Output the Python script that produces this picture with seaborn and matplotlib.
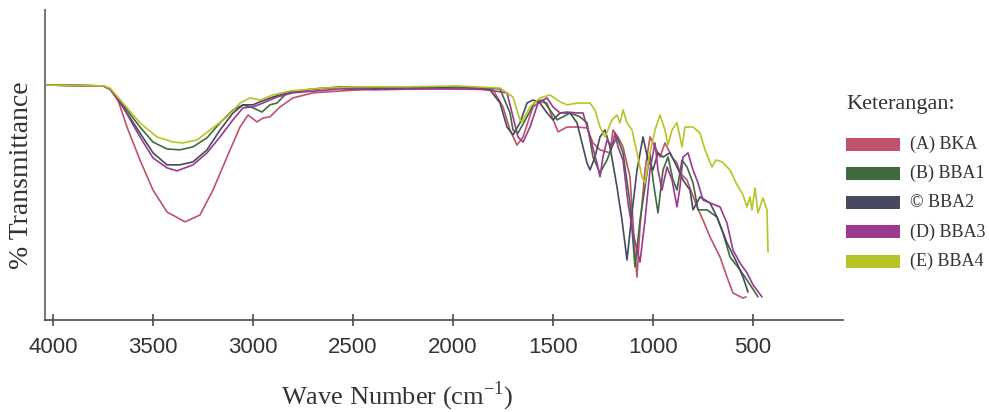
import matplotlib
matplotlib.use("Agg")
import matplotlib.pyplot as plt
import pandas as pd
import seaborn as sns
from matplotlib.patches import Rectangle

# ---------------- data ----------------
series_names = ["(A) BKA", "(B) BBA1", "© BBA2", "(D) BBA3", "(E) BBA4"]
series_colors = ["#C0526A", "#3F6B3E", "#474A5E", "#9A3A8E", "#B8C425"]

wn_a = [4040, 3750, 3715, 3680, 3630, 3565, 3500, 3430, 3340, 3265, 3200, 3130, 3065, 3025, 2980,
        2950, 2915, 2865, 2800, 2700, 2565, 2400, 2165, 1965, 1800, 1750, 1715, 1680, 1650, 1600,
        1565, 1530, 1505, 1475, 1430, 1380, 1330, 1300, 1265, 1215, 1200, 1175, 1150, 1115, 1090,
        1080, 1065, 1040, 1015, 990, 965, 940, 905, 880, 865, 830, 780, 750, 715, 665, 630, 600,
        550, 535]
t_a = [78.3, 78.0, 77.0, 74.3, 64.3, 53.3, 43.3, 36.0, 32.7, 35.0, 43.3, 54.3, 64.3, 68.3, 66.0,
       67.3, 67.7, 71.0, 74.0, 75.7, 76.3, 77.0, 77.0, 77.0, 76.7, 71.0, 63.3, 58.3, 61.0, 71.0,
       72.7, 72.3, 67.7, 62.7, 64.3, 64.3, 64.0, 59.0, 56.7, 55.7, 63.3, 61.0, 57.7, 47.7, 22.3,
       14.3, 31.0, 50.0, 61.0, 57.7, 54.3, 59.0, 54.3, 52.3, 49.0, 46.7, 37.7, 33.3, 27.7, 21.0,
       14.3, 9.0, 7.3, 7.7]

wn_b = [4040, 3750, 3715, 3650, 3565, 3500, 3430, 3365, 3300, 3230, 3165, 3100, 3050, 3000, 2955,
        2915, 2880, 2830, 2730, 2565, 2265, 1965, 1765, 1715, 1700, 1675, 1630, 1590, 1550, 1515,
        1480, 1450, 1415, 1365, 1330, 1300, 1265, 1230, 1205, 1180, 1150, 1115, 1090, 1065, 1040,
        1015, 1000, 975, 950, 925, 900, 880, 855, 830, 800, 775, 730, 680, 650, 615, 565, 530, 475]
t_b = [78.3, 78.0, 77.0, 71.7, 64.3, 59.3, 57.0, 56.7, 57.7, 60.7, 65.7, 70.0, 71.7, 70.7, 69.3,
       71.7, 72.3, 75.7, 76.7, 77.7, 77.7, 77.7, 77.0, 69.0, 63.3, 62.3, 67.7, 72.7, 73.3, 70.0,
       66.7, 67.7, 69.0, 67.7, 65.7, 54.3, 49.0, 53.3, 57.7, 61.0, 55.7, 39.0, 17.7, 33.3, 44.3,
       55.7, 46.7, 35.7, 50.0, 54.3, 46.7, 43.3, 53.3, 51.0, 45.7, 36.7, 36.7, 34.3, 29.0, 21.0,
       16.7, 13.3, 7.7]

wn_c = [4040, 3750, 3715, 3650, 3565, 3500, 3430, 3365, 3300, 3230, 3165, 3100, 3050, 3000, 2965,
        2900, 2815, 2650, 2265, 1965, 1815, 1765, 1730, 1700, 1665, 1630, 1600, 1565, 1530, 1500,
        1465, 1415, 1380, 1355, 1330, 1315, 1290, 1265, 1240, 1215, 1180, 1155, 1130, 1105, 1080,
        1050, 1025, 1000, 975, 950, 915, 880, 850, 815, 800, 765, 715, 680, 630, 580, 550, 525]
t_c = [78.3, 78.0, 77.0, 71.0, 62.3, 55.7, 51.7, 51.7, 52.7, 56.7, 63.3, 69.0, 71.7, 71.7, 72.7,
       74.3, 76.0, 77.3, 77.3, 77.7, 76.7, 72.3, 64.3, 61.7, 65.7, 72.3, 73.3, 72.3, 69.0, 66.7,
       69.0, 69.0, 65.7, 59.0, 52.3, 50.0, 54.3, 61.0, 63.3, 57.7, 44.3, 33.3, 20.0, 35.7, 50.0,
       61.0, 53.3, 50.0, 55.7, 54.3, 55.7, 51.0, 46.7, 43.3, 36.7, 41.0, 39.0, 34.3, 25.7, 19.0,
       14.3, 9.3]

wn_d = [4040, 3750, 3715, 3650, 3565, 3500, 3430, 3380, 3300, 3230, 3165, 3100, 3050, 3000, 2950,
        2880, 2800, 2565, 2400, 2165, 1865, 1730, 1700, 1675, 1650, 1615, 1575, 1530, 1500, 1465,
        1430, 1380, 1350, 1315, 1280, 1265, 1250, 1230, 1205, 1190, 1175, 1150, 1125, 1100, 1065,
        1040, 1015, 990, 975, 955, 930, 905, 880, 865, 850, 825, 800, 775, 750, 715, 665, 630,
        600, 565, 530, 500, 455]
t_d = [78.3, 78.0, 77.0, 71.0, 61.0, 54.0, 50.7, 49.7, 51.7, 55.7, 61.0, 66.7, 70.7, 71.0, 72.3,
       74.3, 75.7, 77.0, 76.7, 77.0, 77.0, 75.7, 67.7, 61.0, 59.3, 64.3, 72.3, 74.0, 71.0, 69.0,
       69.3, 69.0, 69.0, 61.0, 52.3, 47.7, 54.3, 60.0, 57.7, 62.3, 57.7, 53.3, 39.0, 29.0, 19.3,
       33.3, 50.0, 59.0, 50.0, 43.3, 51.0, 46.7, 37.7, 44.3, 54.3, 55.7, 50.0, 45.7, 40.0, 39.0,
       37.7, 32.3, 23.3, 19.0, 15.7, 11.7, 7.7]

wn_e = [4040, 3750, 3715, 3650, 3565, 3480, 3400, 3350, 3280, 3215, 3130, 3065, 3015, 2965, 2900,
        2815, 2650, 2480, 2230, 1980, 1765, 1700, 1665, 1655, 1615, 1565, 1515, 1465, 1430, 1380,
        1315, 1290, 1265, 1240, 1205, 1180, 1165, 1150, 1130, 1105, 1080, 1055, 1040, 1015, 990,
        965, 940, 925, 905, 880, 855, 840, 800, 765, 740, 705, 685, 655, 615, 580, 550, 530, 515,
        505, 490, 475, 450, 430, 425]
t_e = [78.3, 78.0, 77.3, 72.3, 65.7, 61.0, 59.3, 59.0, 60.0, 63.3, 67.7, 72.3, 74.0, 73.3, 75.0,
       76.3, 77.3, 77.7, 77.7, 78.0, 77.3, 74.3, 66.7, 66.0, 71.0, 74.0, 75.0, 72.7, 71.7, 72.3,
       72.3, 70.0, 64.3, 61.0, 66.7, 68.3, 65.7, 70.0, 65.7, 63.3, 55.7, 47.7, 45.7, 55.7, 63.3,
       68.3, 63.3, 58.3, 63.3, 65.7, 57.7, 64.3, 64.3, 62.3, 56.7, 51.0, 53.3, 52.7, 50.0, 45.0,
       41.7, 37.7, 41.0, 36.7, 44.0, 35.7, 40.7, 36.7, 22.7]

tick_values = [4000, 3500, 3000, 2500, 2000, 1500, 1000, 500]

# ---------------- build table ----------------
rows = []
for name, wn, tr in zip(series_names,
                        [wn_a, wn_b, wn_c, wn_d, wn_e],
                        [t_a, t_b, t_c, t_d, t_e]):
    for w, v in zip(wn, tr):
        rows.append((name, w, v))
df = pd.DataFrame(rows, columns=["series", "wn", "T"])

# ---------------- plot ----------------
sns.set_style("white")
plt.rcParams["font.family"] = ["Liberation Serif", "DejaVu Serif"]

W, H = 989, 412
fig = plt.figure(figsize=(W / 100, H / 100), dpi=100)
ax = fig.add_axes([45 / W, 92 / H, 798 / W, 310 / H])

sns.lineplot(data=df, x="wn", y="T", hue="series",
             palette=dict(zip(series_names, series_colors)),
             hue_order=series_names, estimator=None, sort=False,
             linewidth=1.2, ax=ax, legend=False)
for ln in ax.get_lines():
    ln.set_solid_joinstyle("round")

ax.set_xlim(4040, 50)
ax.set_ylim(0, 103.3)
ax.set_xticks(tick_values)
ax.set_xticklabels([str(t) for t in tick_values])
ax.set_yticks([])
ax.set_xlabel("")
ax.set_ylabel("")
for s in ["top", "right"]:
    ax.spines[s].set_visible(False)
ax.spines["left"].set_color("#7a7a7a")
ax.spines["left"].set_linewidth(1.5)
ax.spines["bottom"].set_color("#4a4a4a")
ax.spines["bottom"].set_linewidth(1.2)
ax.tick_params(axis="x", direction="inout", length=9, width=1.2, color="#4a4a4a",
               pad=8, labelsize=16, labelcolor="#333333", bottom=True)
for lab in ax.get_xticklabels():
    lab.set_fontfamily(["Liberation Sans", "DejaVu Sans"])

fig.text(397 / W, 1 - 404 / H, "Wave Number (cm$^{\\mathregular{-1}}$)",
         ha="center", va="baseline", fontsize=19, color="#333333")
fig.text(22 / W, 1 - 175 / H, "% Transmittance", rotation=90,
         ha="center", va="center", fontsize=20, color="#333333")

# legend
fig.text(846 / W, 1 - 104 / H, "Keterangan:", ha="left", va="center",
         fontsize=16, color="#333333")
for i, (name, col) in enumerate(zip(series_names, series_colors)):
    yc = 144 + i * 29.3
    fig.add_artist(Rectangle((846 / W, 1 - (yc + 6.5) / H), 54 / W, 13 / H,
                             transform=fig.transFigure, facecolor=col, edgecolor="none"))
    fig.text(910 / W, 1 - yc / H, name, ha="left", va="center", fontsize=13,
             color="#333333")

fig.savefig("out.png", dpi=100)
